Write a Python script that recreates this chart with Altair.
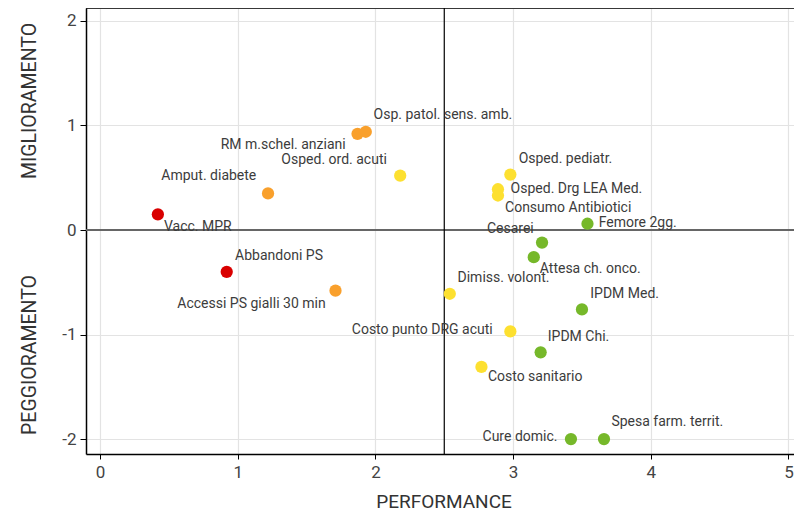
import altair as alt
import pandas as pd

# Data
names = [
    "Vacc. MPR", "Amput. diabete", "RM m.schel. anziani", "Osp. patol. sens. amb.",
    "Osped.  ord. acuti", "Osped. pediatr.", "Osped. Drg LEA Med.", "Consumo Antibiotici",
    "Femore 2gg.", "Cesarei", "Attesa ch. onco.", "Dimiss. volont.", "IPDM Med.",
    "Costo punto DRG acuti", "IPDM Chi.", "Costo sanitario", "Cure domic.",
    "Spesa farm. territ.", "Abbandoni PS", "Accessi PS gialli 30 min",
]
performance = [0.42, 1.22, 1.87, 1.93, 2.18, 2.98, 2.89, 2.89, 3.54, 3.21,
               3.15, 2.54, 3.50, 2.98, 3.20, 2.77, 3.42, 3.66, 0.92, 1.71]
trend = [0.15, 0.35, 0.92, 0.94, 0.52, 0.53, 0.39, 0.33, 0.06, -0.12,
         -0.26, -0.61, -0.76, -0.97, -1.17, -1.31, -2.0, -2.0, -0.40, -0.58]
level = ["red", "orange", "orange", "orange", "yellow", "yellow", "yellow", "yellow",
         "green", "green", "green", "yellow", "green", "yellow", "green", "yellow",
         "green", "green", "red", "orange"]
# label anchor (centre of text) in data units
label_x = [0.71, 0.79, 1.33, 2.49, 1.70, 3.38, 3.46, 3.40, 3.905, 2.98,
           3.56, 2.93, 3.81, 2.34, 3.475, 3.16, 3.05, 4.12, 1.30, 1.10]
label_y = [0.03, 0.52, 0.815, 1.10, 0.665, 0.68, 0.395, 0.214, 0.07, 0.013,
           -0.37, -0.46, -0.61, -0.96, -1.02, -1.41, -1.98, -1.84, -0.25, -0.71]

level_domain = ["red", "orange", "yellow", "green"]
level_colors = ["#d90000", "#f9a02c", "#fde030", "#76b82a"]

df = pd.DataFrame({"name": names, "perf": performance, "trend": trend,
                   "level": level, "lx": label_x, "ly": label_y})

W, H = 708, 446
xs = alt.Scale(domain=[-0.102, 5.04], nice=False, zero=False)
ys = alt.Scale(domain=[-2.143, 2.124], nice=False, zero=False)
FONT = "Roboto"

base = alt.Chart(df)

points = base.mark_circle(size=150, opacity=1).encode(
    x=alt.X("perf:Q", scale=xs, title=None,
            axis=alt.Axis(values=[0, 1, 2, 3, 4, 5], labelExpr="'' + datum.value",
                          tickSize=5, labelPadding=5,
                          labelFontSize=17, labelColor="#444444", labelFont=FONT,
                          domainColor="#000000", domainWidth=1.5, tickColor="#000000",
                          gridColor="#e3e3e3", gridWidth=1.2)),
    y=alt.Y("trend:Q", scale=ys, title=None,
            axis=alt.Axis(values=[-2, -1, 0, 1, 2], labelExpr="'' + datum.value",
                          tickSize=6, labelPadding=4,
                          labelFontSize=17, labelColor="#444444", labelFont=FONT,
                          domainColor="#000000", domainWidth=1.5, tickColor="#000000",
                          gridColor="#e3e3e3", gridWidth=1.2)),
    color=alt.Color("level:N", scale=alt.Scale(domain=level_domain, range=level_colors),
                    legend=None),
)

labels = base.mark_text(fontSize=14, font=FONT, color="#3c3c3c",
                        align="center", baseline="middle").encode(
    x=alt.X("lx:Q", scale=xs), y=alt.Y("ly:Q", scale=ys), text="name:N")

hline = alt.Chart(pd.DataFrame({"y": [0]})).mark_rule(color="#666666", strokeWidth=2).encode(
    y=alt.Y("y:Q", scale=ys))
vline = alt.Chart(pd.DataFrame({"x": [2.5]})).mark_rule(color="#000000", strokeWidth=1.2).encode(
    x=alt.X("x:Q", scale=xs))

topline = alt.Chart(pd.DataFrame({"a": [0]})).mark_rule(color="#000000", strokeWidth=1.5).encode(
    x=alt.value(0), x2=alt.value(W), y=alt.value(0))

ytitle1 = alt.Chart(pd.DataFrame({"t": ["MIGLIORAMENTO"]})).mark_text(
    fontSize=19.5, font=FONT, color="#333333", angle=270, align="center", baseline="middle"
).encode(text="t:N", x=alt.value(-56), y=alt.value(93))
ytitle2 = alt.Chart(pd.DataFrame({"t": ["PEGGIORAMENTO"]})).mark_text(
    fontSize=19.5, font=FONT, color="#333333", angle=270, align="center", baseline="middle"
).encode(text="t:N", x=alt.value(-56), y=alt.value(347))
xtitle = alt.Chart(pd.DataFrame({"t": ["PERFORMANCE"]})).mark_text(
    fontSize=19, font=FONT, color="#333333", align="center", baseline="middle"
).encode(text="t:N", x=alt.value(358), y=alt.value(494))

chart = alt.layer(hline, vline, topline, points, labels, ytitle1, ytitle2, xtitle).properties(
    width=W, height=H,
    autosize=alt.AutoSizeParams(type="none"),
    padding={"left": 78, "top": 0, "right": 0, "bottom": 62},
).configure_view(stroke=None).configure(background="#ffffff")

chart.save("out.html", embed_options={"renderer": "svg", "actions": False})
